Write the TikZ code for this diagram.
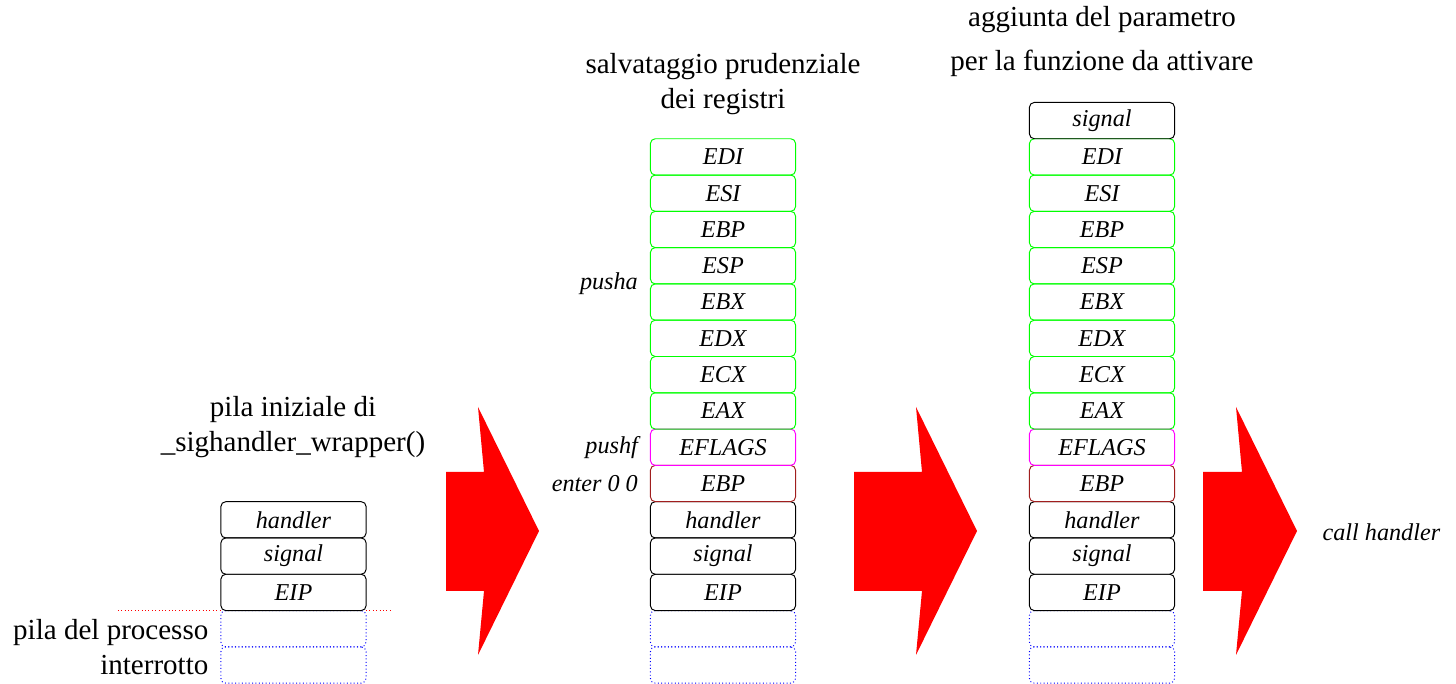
\documentclass[tikz,border=0pt]{standalone}
\usepackage{fontspec}
\setmainfont{Liberation Serif}
\usepackage{tikz}
\usetikzlibrary{positioning}
\definecolor{reggreen}{RGB}{0,255,0}
\definecolor{flagmagenta}{RGB}{255,0,255}
\definecolor{framered}{RGB}{160,30,30}
\definecolor{freeblue}{RGB}{0,0,255}

\begin{document}
\begin{tikzpicture}[x=0.4133pt, y=0.4133pt,
    cell/.style={draw, rounded corners=2pt, minimum width=60pt, minimum height=15pt, inner sep=0pt, outer sep=0pt, font=\fontsize{10}{12}\selectfont\itshape},
    regcell/.style={cell, draw=reggreen},
    flagcell/.style={cell, draw=flagmagenta},
    bpcell/.style={cell, draw=framered},
    freecell/.style={cell, draw=freeblue, densely dotted},
    titletext/.style={align=center, font=\fontsize{12}{14.6}\selectfont},
    opnote/.style={anchor=east, inner sep=5pt, font=\fontsize{10}{12}\selectfont\itshape},
    bigarrow/.style={fill=red}]
    \useasboundingbox (0,0) rectangle (1456,684);

    % pila iniziale
    \node[freecell] (a0) at (293.5,19) {};
    \node[freecell, above=0pt of a0] (a1) {};
    \node[cell, above=0pt of a1] (a2) {EIP};
    \node[cell, above=0pt of a2] (a3) {signal};
    \node[cell, above=0pt of a3] (a4) {handler};
    \node[titletext] (t1) at (293,257) {pila iniziale di\\\_sighandler\_wrapper()};
    \node[opnote, align=right, font=\fontsize{12}{14.5}\selectfont] (pp) at (a1.south west) {pila del processo\\interrotto};
    \draw[red, densely dotted] (a2.south west) ++(-103,0) -- (a2.south west);
    \draw[red, densely dotted] (a2.south east) -- ++(27,0);

    % registri salvati
    \node[freecell] (b0) at (723,19) {};
    \node[freecell, above=0pt of b0] (b1) {};
    \node[cell, above=0pt of b1] (b2) {EIP};
    \node[cell, above=0pt of b2] (b3) {signal};
    \node[cell, above=0pt of b3] (b4) {handler};
    \node[bpcell, above=0pt of b4] (b-BP0) {EBP};
    \node[flagcell, above=0pt of b-BP0] (b-FL) {EFLAGS};
    \foreach \r [remember=\r as \prev (initially FL)] in {EAX,ECX,EDX,EBX,ESP,EBP,ESI,EDI}
        \node[regcell, above=0pt of b-\prev] (b-\r) {\r};
    \node[titletext] (t2) at (723,600) {salvataggio prudenziale\\dei registri};
    \node[opnote] (pa) at (b-ESP.south west) {pusha};
    \node[opnote] (pf) at (b-FL.west) {pushf};
    \node[opnote] (en) at (b-BP0.west) {enter 0 0};

    % parametro
    \node[freecell] (c0) at (1102,19) {};
    \node[freecell, above=0pt of c0] (c1) {};
    \node[cell, above=0pt of c1] (c2) {EIP};
    \node[cell, above=0pt of c2] (c3) {signal};
    \node[cell, above=0pt of c3] (c4) {handler};
    \node[bpcell, above=0pt of c4] (c-BP0) {EBP};
    \node[flagcell, above=0pt of c-BP0] (c-FL) {EFLAGS};
    \foreach \r [remember=\r as \prev (initially FL)] in {EAX,ECX,EDX,EBX,ESP,EBP,ESI,EDI}
        \node[regcell, above=0pt of c-\prev] (c-\r) {\r};
    \node[cell, above=0pt of c-EDI] (c-SIG) {signal};
    \node[titletext] (t3) at (1102,642) {aggiunta del parametro\\[3.6pt]per la funzione da attivare};

    % frecce
    \foreach \l/\n in {446/484, 854/922, 1203/1242}
        \fill[bigarrow] (\l,212) -- (\n,212) -- (\n-6,277) -- (\n+55,153) -- (\n-6,29) -- (\n,93) -- (\l,93) -- cycle;
    \node[opnote, anchor=west] (ch) at (1310,152) {call handler};
\end{tikzpicture}
\end{document}
